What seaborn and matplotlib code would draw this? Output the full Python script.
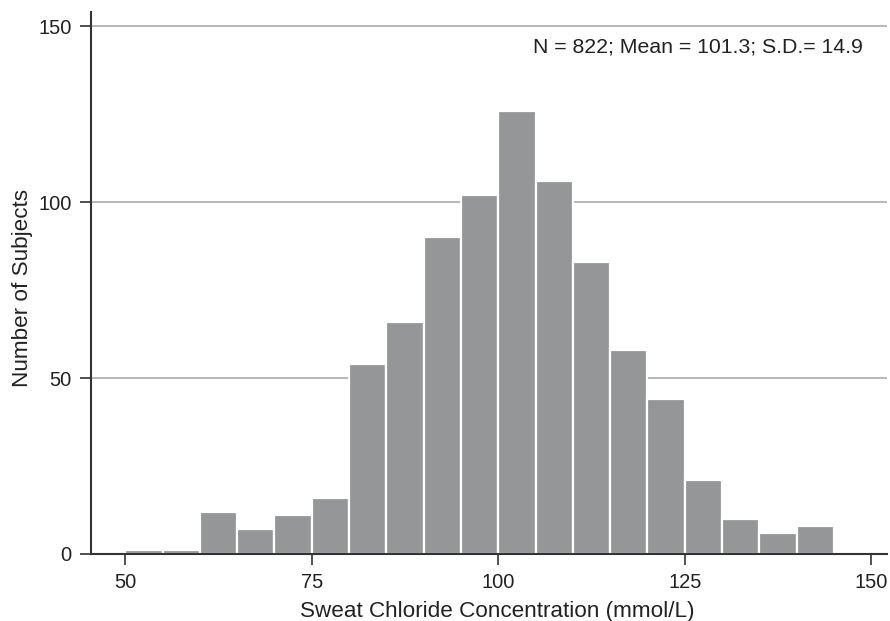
import numpy as np
import pandas as pd
import matplotlib
matplotlib.use("Agg")
import matplotlib.pyplot as plt
import seaborn as sns

bin_left = [50, 55, 60, 65, 70, 75, 80, 85, 90, 95, 100, 105, 110, 115, 120, 125, 130, 135, 140]
counts = [1, 1, 12, 7, 11, 16, 54, 66, 90, 102, 126, 106, 83, 58, 44, 21, 10, 6, 8]
x_ticks = [50, 75, 100, 125, 150]
y_ticks = [0, 50, 100, 150]
annotation = "N = 822; Mean = 101.3; S.D.= 14.9"
xlabel = "Sweat Chloride Concentration (mmol/L)"
ylabel = "Number of Subjects"

sns.set_style("white")
plt.rcParams['font.family'] = ['Liberation Sans', 'DejaVu Sans']

df = pd.DataFrame({"x": np.array(bin_left) + 2.5, "n": counts})

fig = plt.figure(figsize=(8.9, 6.21), dpi=100)
ax = fig.add_axes([0.1022, 0.1079, 0.8944, 0.8728])

for yv in y_ticks[1:]:
    ax.axhline(yv, color="#aaaaaa", lw=1.2, zorder=0)

sns.histplot(data=df, x="x", weights="n", binwidth=5, binrange=(50, 145), ax=ax,
             color="#959697", alpha=1, edgecolor="white", linewidth=1.6, zorder=2)

ax.set_xlim(45.4, 152.1)
ax.set_ylim(0, 154)
ax.set_xticks(x_ticks)
ax.set_yticks(y_ticks)
ax.tick_params(axis="both", direction="out", length=8, width=1.2, color="#333333",
               labelsize=14.5, labelcolor="#222222", pad=6, left=True, bottom=True)
for s in ["top", "right"]:
    ax.spines[s].set_visible(False)
for s in ["left", "bottom"]:
    ax.spines[s].set_color("#333333")
    ax.spines[s].set_linewidth(1.5)

ax.set_xlabel(xlabel, fontsize=16.2, color="#222222", labelpad=6)
ax.set_ylabel(ylabel, fontsize=16.2, color="#222222", labelpad=4)
ax.xaxis.label.set_x(0.511)
ax.yaxis.label.set_y(0.49)

ax.text(0.970, 0.935, annotation, transform=ax.transAxes, ha="right", va="center",
        fontsize=15.3, color="#222222")

fig.savefig("out.png", dpi=100)
